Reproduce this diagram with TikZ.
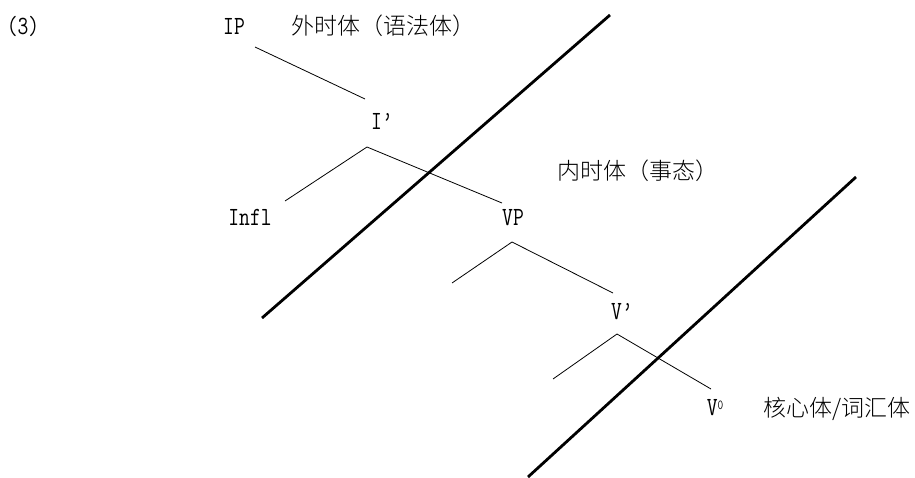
\documentclass[tikz,border=0pt]{standalone}
\usepackage{fontspec}
\newfontfamily\cjk{Noto Sans CJK SC Light}
\newcommand{\lat}[1]{\scalebox{1}[1.25]{\ttfamily\fontsize{21}{21}\selectfont #1}}
\begin{document}
\begin{tikzpicture}[x=1pt,y=-1pt,
  thin line/.style={line width=0.8pt},
  thick line/.style={line width=2.8pt},
  lab/.style={inner sep=0pt,anchor=center},
  zh/.style={inner sep=0pt,anchor=center,font=\cjk\fontsize{23}{23}\selectfont}]
\useasboundingbox (0,0) rectangle (915,477);
% labels
\node[lab] (num) at (23,26) {\lat{(3)}};
\node[lab] (IP) at (234,26) {\lat{IP}};
\node[zh] (ext) at (383,26) {外时体（语法体）};
\node[lab] (Ib) at (382,121) {\lat{I’}};
\node[lab] (Infl) at (250,217) {\lat{Infl}};
\node[lab] (VP) at (513,218) {\lat{VP}};
\node[zh] (int) at (638,171) {内时体（事态）};
\node[lab] (Vb) at (622,312) {\lat{V’}};
\node[lab] (V0) at (715,408) {\lat{V\raisebox{0.6ex}{\fontsize{11}{11}\selectfont 0}}};
\node[zh] (core) at (837,409) {核心体/词汇体};
% tree points
\coordinate (ipb) at (255,47);
\coordinate (ipe) at (365,99);
\coordinate (iap) at (367,147);
\coordinate (inflt) at (285,201);
\coordinate (vpt) at (502,203);
\coordinate (vap) at (512,242);
\coordinate (vpl) at (452,283);
\coordinate (vbt) at (613,293);
\coordinate (vbap) at (617,334);
\coordinate (vbl) at (553,379);
\coordinate (v0t) at (711,389);
% thick boundary lines
\coordinate (b1a) at (262,318);
\coordinate (b1b) at (610,15);
\coordinate (b2a) at (528,477);
\coordinate (b2b) at (856,177);
\draw[thin line] (ipb) -- (ipe);
\draw[thin line] (inflt) -- (iap) -- (vpt);
\draw[thin line] (vpl) -- (vap) -- (vbt);
\draw[thin line] (vbl) -- (vbap) -- (v0t);
\draw[thick line] (b1a) -- (b1b);
\draw[thick line] (b2a) -- (b2b);
\end{tikzpicture}
\end{document}
